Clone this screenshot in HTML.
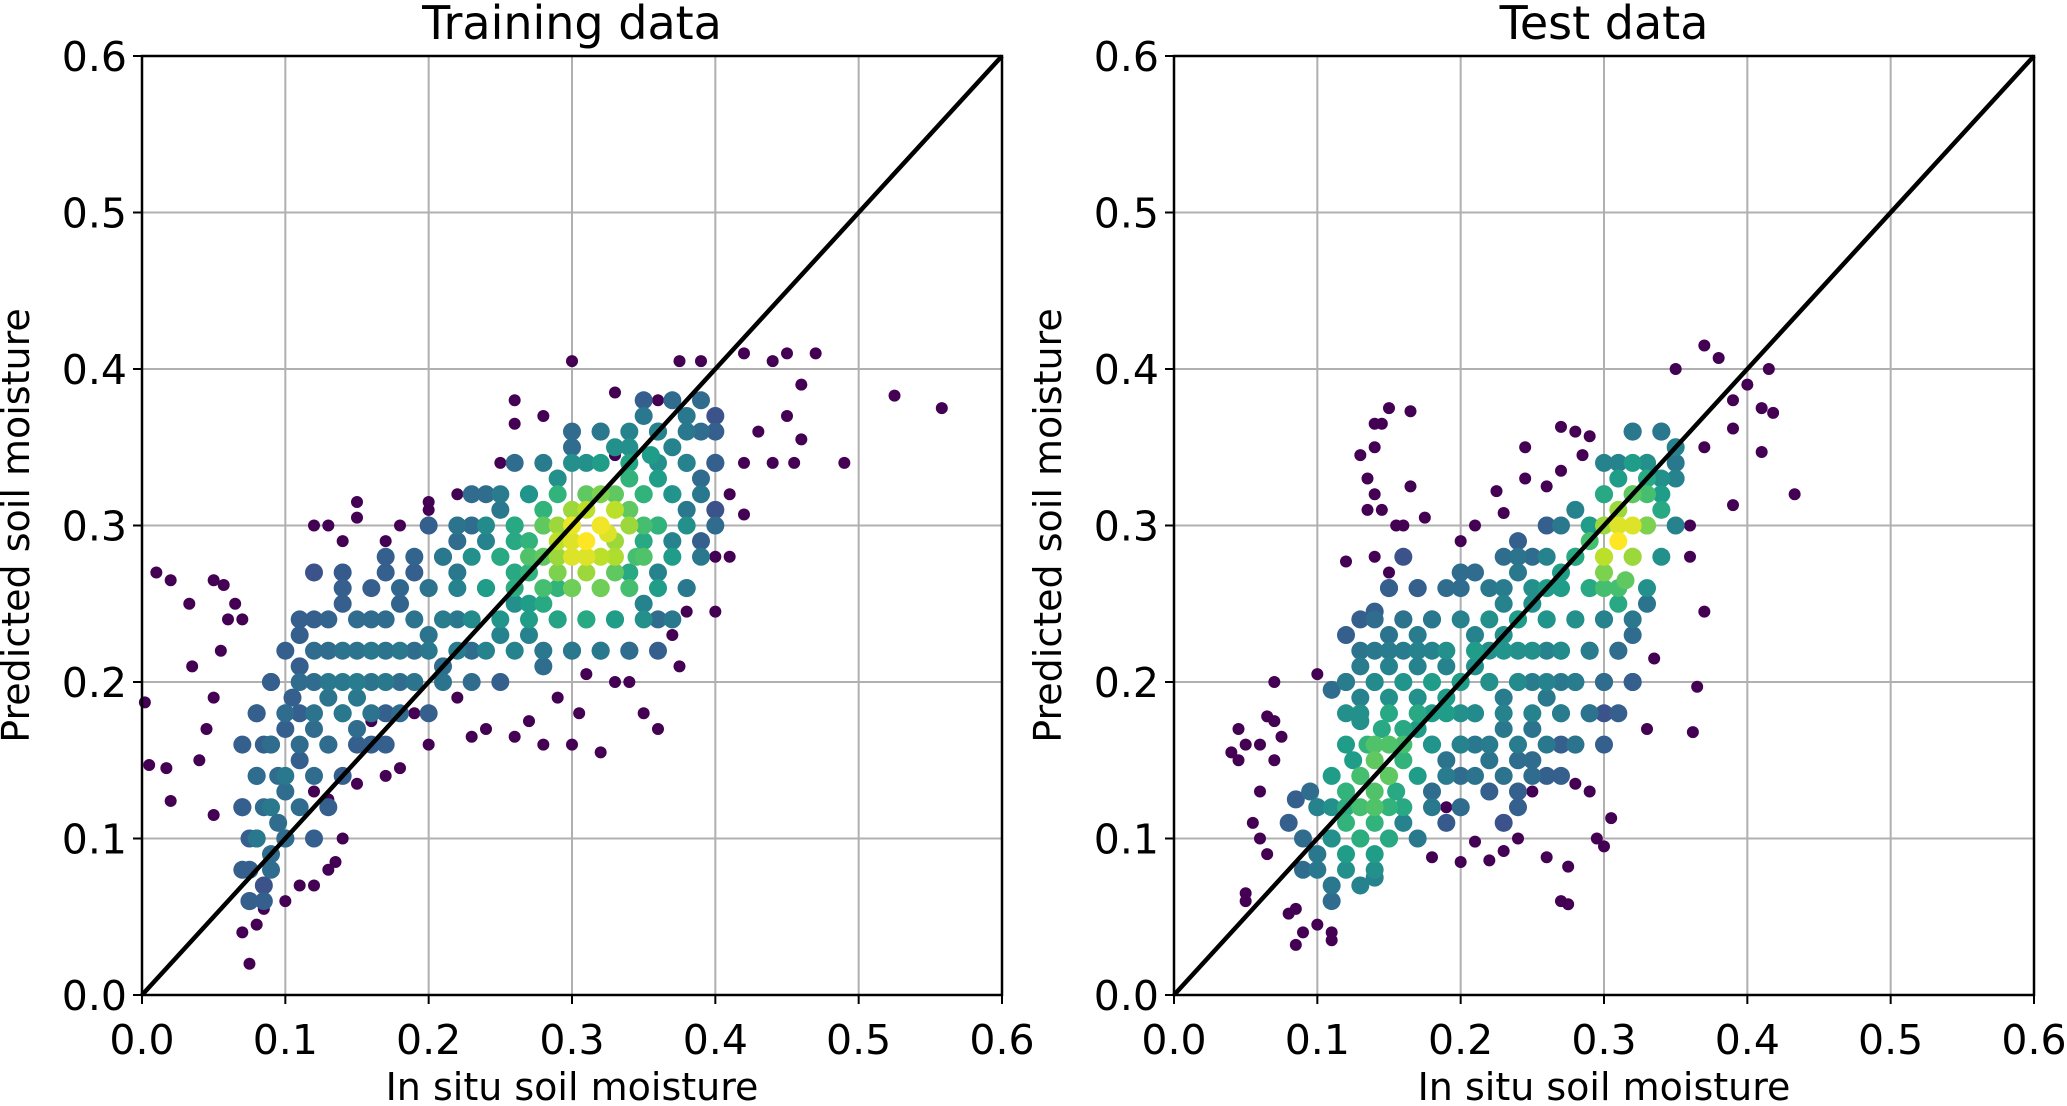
<!DOCTYPE html>
<html><head><meta charset="utf-8"><style>
html,body{margin:0;padding:0;background:#fff;}
svg{display:block;font-family:"DejaVu Sans","Liberation Sans",sans-serif;}
</style></head><body>
<svg id="fig" width="2067" height="1106" viewBox="0 0 2067 1106"></svg>
<script>
// axis ticks
const tickValues = [0.0,0.1,0.2,0.3,0.4,0.5,0.6];
const tickLabels = ["0.0","0.1","0.2","0.3","0.4","0.5","0.6"];
const panelTitles = ["Training data","Test data"];
// training data: x, y, density(0-1)
const trainX = [0.002,0.01,0.02,0.005,0.017,0.02,0.033,0.035,0.05,0.057,0.045,0.06,0.055,0.05,0.04,0.05,0.07,0.065,0.075,0.07,0.08,0.085,0.1,0.11,0.12,0.13,0.135,0.14,0.13,0.12,0.3,0.33,0.36,0.375,0.39,0.42,0.44,0.45,0.47,0.46,0.45,0.43,0.44,0.455,0.46,0.49,0.525,0.558,0.42,0.41,0.42,0.4,0.41,0.4,0.35,0.32,0.3,0.28,0.26,0.27,0.24,0.23,0.2,0.19,0.18,0.17,0.16,0.15,0.15,0.15,0.13,0.12,0.14,0.2,0.2,0.22,0.26,0.26,0.28,0.25,0.33,0.36,0.33,0.34,0.31,0.37,0.38,0.375,0.305,0.29,0.25,0.22,0.18,0.17,
0.075,0.08,0.085,0.09,0.08,0.09,0.095,0.1,0.085,0.075,0.1,0.11,0.105,0.09,0.08,0.07,0.1,0.095,0.075,0.085,
0.11,0.12,0.13,0.14,0.15,0.16,0.14,0.13,0.12,0.11,0.15,0.16,0.17,0.18,0.19,0.2,0.21,0.2,0.18,0.14,0.13,0.15,0.17,0.12,0.11,0.19,0.17,0.22,0.22,0.21,0.23,0.16,0.12,0.14,
0.24,0.25,0.26,0.27,0.28,0.29,0.3,0.31,0.32,0.33,0.3,0.32,0.31,0.29,0.33,0.34,0.35,0.36,0.34,0.32,0.3,0.28,0.27,0.26,0.28,0.3,0.32,0.34,0.35,0.36,0.37,0.38,0.37,0.36,0.38,0.39,0.39,0.38,0.37,0.36,0.35,0.33,0.31,0.29,0.27,0.25,0.24,0.26,0.25,0.27,0.29,0.31,0.33,0.35,0.34,0.32,0.3,0.28,0.36,0.38,0.39,0.4,0.4,0.4,0.23,0.22,0.24,0.3,0.32,0.34,0.355,0.31,0.33,0.29,0.3,0.31,0.325,0.28,0.26,0.35,0.345,0.27,0.29];
const trainY = [0.187,0.27,0.265,0.147,0.145,0.124,0.25,0.21,0.265,0.262,0.17,0.24,0.22,0.19,0.15,0.115,0.24,0.25,0.02,0.04,0.045,0.055,0.06,0.07,0.07,0.08,0.085,0.1,0.125,0.13,0.405,0.385,0.38,0.405,0.405,0.41,0.405,0.41,0.41,0.39,0.37,0.36,0.34,0.34,0.355,0.34,0.383,0.375,0.34,0.32,0.307,0.28,0.28,0.245,0.18,0.155,0.16,0.16,0.165,0.175,0.17,0.165,0.16,0.18,0.145,0.14,0.175,0.135,0.315,0.305,0.3,0.3,0.29,0.315,0.31,0.32,0.38,0.365,0.37,0.34,0.345,0.17,0.2,0.2,0.205,0.23,0.245,0.21,0.18,0.19,0.2,0.19,0.3,0.29,
0.08,0.1,0.12,0.09,0.14,0.16,0.11,0.13,0.07,0.06,0.17,0.15,0.19,0.2,0.18,0.12,0.1,0.14,0.1,0.16,
0.21,0.2,0.19,0.2,0.19,0.2,0.18,0.22,0.24,0.23,0.22,0.24,0.22,0.2,0.22,0.23,0.21,0.26,0.25,0.25,0.16,0.17,0.18,0.17,0.18,0.27,0.27,0.24,0.27,0.28,0.22,0.16,0.27,0.27,
0.26,0.28,0.27,0.29,0.28,0.3,0.29,0.29,0.3,0.31,0.28,0.28,0.31,0.27,0.29,0.31,0.32,0.33,0.33,0.32,0.31,0.31,0.27,0.25,0.25,0.26,0.26,0.27,0.29,0.3,0.32,0.34,0.35,0.36,0.37,0.36,0.33,0.31,0.29,0.27,0.25,0.24,0.24,0.24,0.23,0.23,0.29,0.3,0.31,0.32,0.33,0.34,0.35,0.37,0.22,0.22,0.22,0.21,0.24,0.26,0.29,0.31,0.34,0.37,0.3,0.29,0.32,0.35,0.36,0.35,0.345,0.27,0.27,0.29,0.3,0.28,0.295,0.3,0.29,0.3,0.28,0.25,0.26];
const trainD = [0,0,0,0,0,0,0,0,0,0,0,0,0,0,0,0,0,0,0,0,0,0,0,0,0,0,0,0,0,0,0,0,0,0,0,0,0,0,0,0,0,0,0,0,0,0,0,0,0,0,0,0,0,0,0,0,0,0,0,0,0,0,0,0,0,0,0,0,0,0,0,0,0,0,0,0,0,0,0,0,0,0,0,0,0,0,0,0,0,0,0,0,0,0,
.3,.35,.35,.35,.3,.3,.35,.35,.25,.2,.3,.3,.3,.25,.25,.2,.3,.35,.3,.3,
.3,.35,.38,.4,.4,.38,.4,.35,.3,.3,.38,.35,.38,.35,.35,.38,.35,.35,.32,.3,.35,.35,.3,.35,.3,.3,.3,.4,.4,.35,.35,.3,.25,.28,
.5,.55,.6,.65,.75,.85,.95,1,.98,.9,.95,.9,.9,.8,.85,.75,.65,.55,.65,.8,.85,.65,.65,.5,.6,.7,.7,.6,.6,.55,.5,.45,.45,.4,.4,.35,.35,.4,.45,.45,.45,.5,.55,.5,.45,.45,.45,.5,.4,.45,.5,.5,.5,.4,.35,.4,.4,.35,.35,.35,.3,.25,.3,.25,.35,.35,.35,.35,.35,.5,.55,.85,.75,.9,.97,.95,.95,.75,.6,.7,.7,.55,.65];
// additional training points read row by row
const trainRowY = [0.06,0.08,0.1,0.12,0.14,0.16,0.18,0.2,0.22,0.24,0.26,0.28,0.3,0.32,0.34,0.36,0.38];
const trainRowX = [[0.075,0.085],[0.07,0.09],[0.08,0.1,0.12],[0.07,0.09,0.11,0.13],[0.08,0.1,0.12,0.14],[0.07,0.09,0.11,0.13,0.15,0.17],[0.08,0.1,0.12,0.14,0.16,0.18,0.2],[0.09,0.11,0.13,0.15,0.17,0.19,0.21,0.23,0.25],[0.1,0.12,0.14,0.16,0.18,0.2,0.22,0.24,0.26,0.28,0.3,0.32,0.34,0.36],[0.11,0.13,0.15,0.17,0.19,0.21,0.23,0.25,0.27,0.29,0.31,0.33,0.35,0.37],[0.14,0.16,0.18,0.2,0.22,0.24,0.26,0.28,0.3,0.32,0.34,0.36,0.38],[0.17,0.19,0.21,0.23,0.25,0.27,0.29,0.31,0.33,0.35,0.37,0.39],[0.2,0.22,0.24,0.26,0.28,0.3,0.32,0.34,0.36,0.38,0.4],[0.23,0.25,0.27,0.29,0.31,0.33,0.35,0.37,0.39],[0.26,0.28,0.3,0.32,0.34,0.36,0.38,0.4],[0.3,0.32,0.34,0.36,0.38,0.4],[0.35,0.37,0.39]];
const trainRowD = [[.3,.3],[.3,.35],[.4,.35,.3],[.3,.4,.35,.3],[.35,.4,.35,.3],[.3,.35,.35,.35,.3,.3],[.3,.35,.38,.4,.38,.35,.3],[.3,.35,.4,.42,.4,.38,.38,.35,.3],[.3,.35,.38,.4,.4,.4,.42,.45,.45,.4,.4,.38,.35,.3],[.3,.32,.35,.35,.38,.42,.48,.52,.55,.58,.6,.55,.5,.4],[.3,.3,.33,.38,.45,.55,.62,.7,.78,.78,.7,.55,.4],[.3,.32,.4,.5,.6,.72,.85,.95,.88,.72,.55,.4],[.3,.38,.48,.6,.75,.9,.98,.85,.65,.5,.35],[.35,.42,.52,.65,.75,.75,.65,.52,.4],[.35,.42,.5,.55,.58,.5,.42,.3],[.35,.4,.45,.45,.4,.3],[.3,.35,.35]];
// test data
const testX = [0.04,0.045,0.05,0.045,0.06,0.065,0.07,0.07,0.075,0.07,0.06,0.055,0.06,0.05,0.05,0.065,0.08,0.085,0.09,0.085,0.1,0.11,0.11,0.1,0.13,0.135,0.14,0.145,0.15,0.165,0.14,0.135,0.14,0.165,0.145,0.155,0.16,0.175,0.12,0.14,0.15,0.2,0.21,0.225,0.23,0.245,0.245,0.26,0.27,0.28,0.285,0.29,0.27,0.18,0.2,0.21,0.22,0.23,0.26,0.27,0.275,0.275,0.3,0.305,0.295,0.33,0.335,0.37,0.365,0.362,0.36,0.36,0.37,0.38,0.35,0.39,0.39,0.4,0.415,0.41,0.418,0.41,0.39,0.433,0.37,0.29,0.28,0.24,0.25,0.19,0.2,
0.12,0.13,0.14,0.15,0.14,0.15,0.13,0.12,0.14,0.15,0.16,0.16,0.13,0.12,0.14,0.11,0.11,0.155,0.135,0.145,0.125,0.15,0.16,0.1,0.11,0.13,0.14,0.09,0.1,0.095,0.08,0.085,
0.17,0.18,0.19,0.2,0.21,0.22,0.23,0.24,0.25,0.26,0.27,0.28,0.17,0.19,0.21,0.23,0.18,0.2,0.22,0.24,0.26,0.28,0.27,
0.31,0.32,0.3,0.31,0.32,0.3,0.315,0.33,0.32,0.33,0.3,0.29,0.3,0.31,0.29,0.34,0.33,0.32,0.34,0.3,0.31,0.33,0.35,0.34,0.32,0.3,0.28,0.35,
0.18,0.19,0.2,0.21,0.22,0.23,0.24,0.25,0.26,0.27,0.28,0.29,0.27,0.25,0.23,0.21,0.2,0.22,0.24,0.26,0.28,0.29,0.3,0.31,0.32,0.33,0.3,0.26,0.24,0.25,0.27,0.3,0.32,0.2,0.19,0.23,
0.12,0.13,0.14,0.15,0.16,0.17,0.13,0.14,0.15,0.16,0.17,0.18,0.19,0.2,0.21,0.22,0.12,0.13,0.11,0.12,0.13,0.15,0.17,0.18,0.24,0.25,0.23,0.15,0.16,0.24,0.26,0.14];
const testY = [0.155,0.15,0.16,0.17,0.16,0.178,0.175,0.2,0.165,0.15,0.13,0.11,0.1,0.065,0.06,0.09,0.052,0.055,0.04,0.032,0.045,0.04,0.035,0.205,0.345,0.33,0.365,0.365,0.375,0.373,0.35,0.31,0.32,0.325,0.31,0.3,0.3,0.305,0.277,0.28,0.27,0.29,0.3,0.322,0.308,0.35,0.33,0.325,0.363,0.36,0.345,0.357,0.335,0.088,0.085,0.098,0.086,0.092,0.088,0.06,0.058,0.082,0.095,0.113,0.1,0.17,0.215,0.245,0.197,0.168,0.3,0.28,0.415,0.407,0.4,0.38,0.362,0.39,0.4,0.375,0.372,0.347,0.313,0.32,0.35,0.13,0.135,0.1,0.13,0.12,0.12,
0.11,0.12,0.13,0.14,0.15,0.16,0.14,0.13,0.11,0.12,0.15,0.17,0.1,0.09,0.09,0.1,0.12,0.13,0.16,0.17,0.15,0.1,0.11,0.09,0.07,0.07,0.075,0.08,0.12,0.13,0.11,0.125,
0.17,0.18,0.19,0.2,0.21,0.22,0.23,0.24,0.25,0.26,0.27,0.28,0.19,0.21,0.23,0.25,0.16,0.18,0.2,0.22,0.24,0.24,0.22,
0.29,0.3,0.28,0.31,0.28,0.27,0.265,0.3,0.32,0.32,0.3,0.29,0.26,0.25,0.26,0.31,0.33,0.34,0.33,0.32,0.33,0.34,0.35,0.36,0.36,0.34,0.31,0.33,
0.13,0.15,0.14,0.16,0.15,0.17,0.15,0.17,0.19,0.18,0.2,0.22,0.2,0.2,0.19,0.18,0.16,0.13,0.13,0.14,0.16,0.18,0.2,0.22,0.23,0.25,0.24,0.22,0.2,0.15,0.16,0.18,0.2,0.12,0.11,0.11,
0.2,0.21,0.22,0.23,0.24,0.26,0.19,0.2,0.21,0.22,0.23,0.24,0.26,0.27,0.27,0.26,0.23,0.24,0.195,0.18,0.175,0.19,0.21,0.22,0.27,0.28,0.28,0.26,0.28,0.29,0.3,0.245];
const testD = [0,0,0,0,0,0,0,0,0,0,0,0,0,0,0,0,0,0,0,0,0,0,0,0,0,0,0,0,0,0,0,0,0,0,0,0,0,0,0,0,0,0,0,0,0,0,0,0,0,0,0,0,0,0,0,0,0,0,0,0,0,0,0,0,0,0,0,0,0,0,0,0,0,0,0,0,0,0,0,0,0,0,0,0,0,0,0,0,0,0,0,
.65,.7,.72,.72,.75,.72,.7,.65,.65,.65,.65,.6,.6,.55,.55,.5,.5,.6,.65,.6,.55,.5,.45,.4,.4,.45,.45,.35,.4,.35,.3,.3,
.55,.55,.55,.5,.5,.5,.5,.5,.5,.55,.55,.6,.5,.45,.45,.45,.5,.5,.5,.5,.5,.5,.45,
1,.95,.9,.85,.85,.8,.75,.8,.75,.7,.85,.7,.7,.6,.6,.6,.6,.55,.5,.6,.55,.5,.45,.4,.4,.45,.45,.45,
.35,.38,.35,.4,.38,.4,.35,.38,.4,.38,.38,.38,.4,.42,.42,.45,.42,.3,.3,.3,.3,.3,.3,.35,.35,.38,.4,.45,.45,.35,.3,.25,.25,.3,.28,.25,
.4,.42,.4,.38,.35,.3,.45,.45,.45,.42,.42,.4,.35,.35,.35,.4,.3,.3,.35,.5,.5,.5,.45,.45,.4,.35,.35,.3,.25,.3,.3,.3];
const testRowY = [0.06,0.08,0.1,0.12,0.14,0.16,0.18,0.2,0.22,0.24,0.26,0.28,0.3,0.32,0.34,0.36];
const testRowX = [[0.11],[0.1,0.12,0.14],[0.09,0.11,0.13,0.15,0.17],[0.1,0.12,0.14,0.16,0.18,0.2,0.24],[0.11,0.13,0.15,0.17,0.19,0.21,0.23,0.25,0.27],[0.12,0.14,0.16,0.18,0.2,0.22,0.24,0.26,0.28,0.3],[0.13,0.15,0.17,0.19,0.21,0.23,0.25,0.27,0.29,0.31],[0.12,0.14,0.16,0.18,0.2,0.22,0.24,0.26,0.28,0.3,0.32],[0.13,0.15,0.17,0.19,0.21,0.23,0.25,0.27,0.29,0.31],[0.14,0.16,0.18,0.2,0.22,0.24,0.26,0.28,0.3,0.32],[0.15,0.17,0.2,0.23,0.25,0.27,0.29,0.31,0.33],[0.24,0.26,0.28,0.3,0.32,0.34],[0.27,0.29,0.31,0.33,0.35],[0.3,0.32,0.34],[0.31,0.33,0.35],[0.32,0.34]];
const testRowD = [[.35],[.4,.5,.5],[.35,.5,.62,.6,.4],[.45,.62,.72,.6,.4,.35,.3],[.55,.7,.75,.55,.42,.38,.38,.35,.3],[.55,.72,.7,.52,.45,.42,.42,.4,.38,.3],[.5,.6,.6,.55,.48,.45,.45,.42,.38,.3],[.42,.48,.52,.55,.55,.5,.48,.45,.42,.35,.3],[.38,.42,.45,.5,.55,.52,.5,.48,.42,.35],[.35,.38,.4,.45,.5,.55,.52,.48,.45,.4],[.3,.3,.35,.42,.5,.55,.6,.7,.5],[.38,.45,.55,.85,.85,.5],[.4,.55,.95,.75,.45],[.55,.75,.55],[.45,.5,.4],[.35,.35]];

const NS = "http://www.w3.org/2000/svg";
const svg = document.getElementById('fig');
const vir = [[68,1,84],[72,40,120],[62,74,137],[49,104,142],[38,130,142],[31,158,137],[53,183,121],[110,206,88],[181,222,43],[253,231,37]];
function viridis(t){t=Math.max(0,Math.min(1,t));const p=t*(vir.length-1),i=Math.min(Math.floor(p),vir.length-2),f=p-i;
 const c=vir[i].map((v,k)=>Math.round(v+(vir[i+1][k]-v)*f));return `rgb(${c[0]},${c[1]},${c[2]})`;}
function mk(tag,attrs,parent){const e=document.createElementNS(NS,tag);for(const k in attrs)e.setAttribute(k,attrs[k]);(parent||svg).appendChild(e);return e;}
function collect(xs,ys,ds,ry,rx,rd){const pts=xs.map((x,i)=>[x,ys[i],ds[i]]);
  ry.forEach((y,r)=>rx[r].forEach((x,k)=>pts.push([x,y,rd[r][k]])));return pts;}

const Y0=995, Y1=56;
const panels=[{x0:142,x1:1002,pts:collect(trainX,trainY,trainD,trainRowY,trainRowX,trainRowD),key:'training'},
              {x0:1174,x1:2034,pts:collect(testX,testY,testD,testRowY,testRowX,testRowD),key:'test'}];
panels.forEach((p,pi)=>{
  const g=mk('g',{});
  
  
  const sx=v=>p.x0+(v-0)/0.6*(p.x1-p.x0);
  const sy=v=>Y0-(v-0)/0.6*(Y0-Y1);
  tickValues.forEach((v,i)=>{
    const gx=mk('line',{x1:sx(v),x2:sx(v),y1:Y0,y2:Y1,stroke:'#b0b0b0','stroke-width':2},g);
    
    
    const gy=mk('line',{x1:p.x0,x2:p.x1,y1:sy(v),y2:sy(v),stroke:'#b0b0b0','stroke-width':2},g);
    
    
  });
  const pts=p.pts.slice().sort((a,b)=>a[2]-b[2]);
  const pg=mk('g',{},g);
  
  
  pts.forEach(d=>{
    const c=mk('circle',{cx:sx(d[0]),cy:sy(d[1]),r:d[2]>0?9:6,fill:viridis(d[2])},pg);
    
    
  });
  const l=mk('line',{x1:sx(0),y1:sy(0),x2:sx(0.6),y2:sy(0.6),stroke:'#000','stroke-width':4.5},g);
  
  
  const fr=mk('rect',{x:p.x0,y:Y1,width:p.x1-p.x0,height:Y0-Y1,fill:'none',stroke:'#000','stroke-width':2.5},g);
  
  
  tickValues.forEach((v,i)=>{
    mk('line',{x1:sx(v),x2:sx(v),y1:Y0,y2:Y0+9,stroke:'#000','stroke-width':2},g);
    mk('line',{x1:p.x0-9,x2:p.x0,y1:sy(v),y2:sy(v),stroke:'#000','stroke-width':2},g);
    const tx=mk('text',{x:sx(v),y:1054,'font-size':41,'text-anchor':'middle',fill:'#000'},g);
    tx.textContent=tickLabels[i];
    
    
    const ty=mk('text',{x:p.x0-15,y:sy(v)+15,'font-size':41,'text-anchor':'end',fill:'#000'},g);
    ty.textContent=tickLabels[i];
    
    
  });
  const t=mk('text',{x:(p.x0+p.x1)/2,y:39,'font-size':46,'text-anchor':'middle',fill:'#000'},g);
  t.textContent=panelTitles[pi];
  
  
  const xt=mk('text',{x:(p.x0+p.x1)/2,y:1100,'font-size':38,'text-anchor':'middle',fill:'#000'},g);
  xt.textContent='In situ soil moisture';
  
  
  const yx=p.x0-113, yy=(Y0+Y1)/2;
  const yt=mk('text',{x:yx,y:yy,'font-size':38,'text-anchor':'middle',fill:'#000',transform:`rotate(-90 ${yx} ${yy})`},g);
  yt.textContent='Predicted soil moisture';
  
  
});
</script>
</body></html>
